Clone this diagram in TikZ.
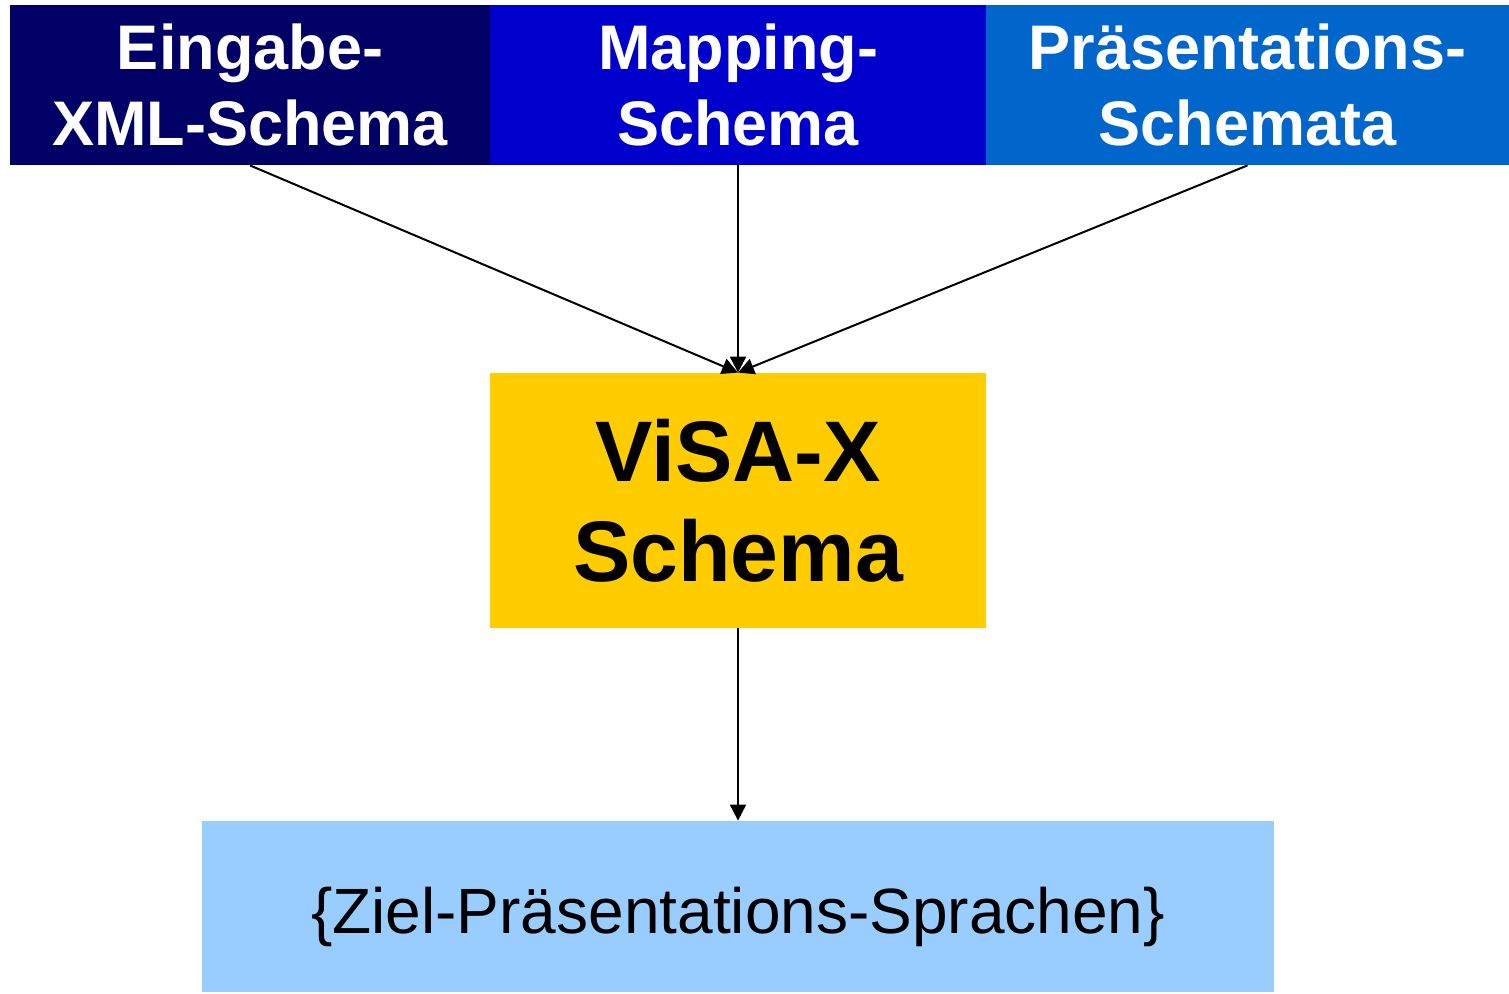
\documentclass[tikz,border=0pt]{standalone}
\usepackage{fontspec}
\setmainfont{Liberation Sans}
\usetikzlibrary{arrows.meta}
\definecolor{navy}{HTML}{000066}
\definecolor{royal}{HTML}{0000CC}
\definecolor{azure}{HTML}{0066CC}
\definecolor{gold}{HTML}{FFCC00}
\definecolor{skyblue}{HTML}{99CCFF}
\tikzset{
  headbox/.style={rectangle, inner sep=0pt, minimum height=80pt, text=white,
    align=center, font=\fontsize{31.5}{38}\selectfont\bfseries},
  corebox/.style={rectangle, fill=gold, inner sep=0pt, minimum width=248pt,
    minimum height=127.5pt, align=center, font=\fontsize{43}{50}\selectfont\bfseries},
  targetbox/.style={rectangle, fill=skyblue, inner sep=0pt, minimum width=536pt,
    minimum height=85.5pt, text height=26.5pt, text depth=0pt,
    font=\fontsize{32}{38}\selectfont},
  flow/.style={line width=1pt, -{Triangle[length=8pt,width=8pt]}}
}
\begin{document}
\begin{tikzpicture}[x=0.5pt, y=-0.5pt]
\useasboundingbox (0,0) rectangle (1509,993);
\node[headbox, fill=navy, minimum width=240pt] (input) at (250,85) {Eingabe-\\XML-Schema};
\node[headbox, fill=royal, minimum width=248pt] (mapping) at (738,85) {Mapping-\\Schema};
\node[headbox, fill=azure, minimum width=261.5pt] (present) at (1247.5,85) {Präsentations-\\Schemata};
\node[corebox] (visa) at (738,500.5) {ViSA-X\\Schema};
\node[targetbox] (target) at (738,906.5) {\{Ziel-Präsentations-Sprachen\}};
\draw[flow] (input.south) -- (visa.north);
\draw[flow] (mapping.south) -- (visa.north);
\draw[flow] (present.south) -- (visa.north);
\draw[flow] (visa.south) -- (target.north);
\end{tikzpicture}
\end{document}
